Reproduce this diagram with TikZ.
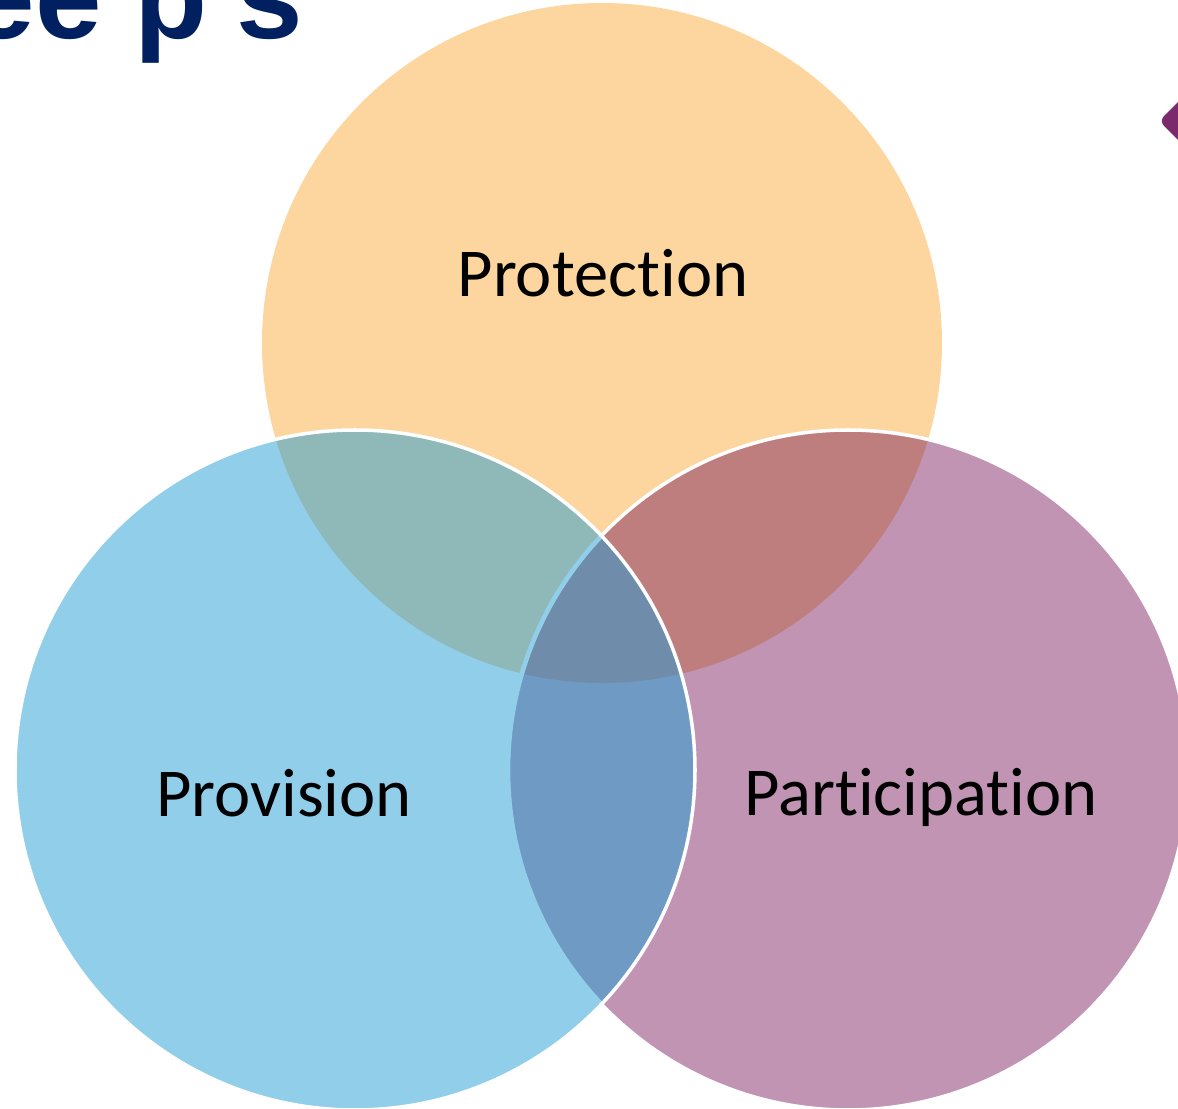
\documentclass[tikz,border=0pt]{standalone}
\usepackage{fontspec}
\setmainfont[Ligatures=NoCommon]{Carlito}
\newfontfamily\headfont{Liberation Sans}
\usetikzlibrary{positioning}
\definecolor{protcol}{HTML}{FCD69E}
\definecolor{provcol}{HTML}{90CEEA}
\definecolor{partcol}{HTML}{C194B4}
\definecolor{protprov}{HTML}{8FB9B9}
\definecolor{protpart}{HTML}{BF7E7E}
\definecolor{provpart}{HTML}{6F9AC4}
\definecolor{allthree}{HTML}{6F8DAA}
\definecolor{headcol}{HTML}{002060}
\definecolor{markcol}{HTML}{7B2A6D}
\tikzstyle{circlabel} = [font=\fontsize{19.5}{23}\selectfont, text=black, inner sep=0pt, anchor=base]
\tikzstyle{rim} = [draw=white, line width=1pt]

\begin{document}
\begin{tikzpicture}[x=0.01cm, y=-0.01cm]
  \useasboundingbox (0,0) rectangle (1178,1109);
  \clip (0,0) rectangle (1178,1109);

  % heading, cut at the top
  \node (head) [anchor=base west, inner sep=0pt, text=headcol, font=\headfont\bfseries\fontsize{34}{40}\selectfont] at (-32,38) {ee p's};

  % mark on the right
  \fill[markcol, rounded corners=2pt] (1159,121) -- (1185,95) -- (1185,147) -- cycle;

  % the three sets
  \fill[protcol] (602,343) circle [radius=340];
  \fill[provcol] (355,770) circle [radius=340];
  \fill[partcol] (848,770) circle [radius=340];

  % overlaps
  \begin{scope}
    \clip (602,343) circle [radius=340];
    \fill[protprov] (355,770) circle [radius=340];
    \fill[protpart] (848,770) circle [radius=340];
  \end{scope}
  \begin{scope}
    \clip (355,770) circle [radius=340];
    \fill[provpart] (848,770) circle [radius=340];
    \clip (848,770) circle [radius=340];
    \fill[allthree] (602,343) circle [radius=340];
  \end{scope}

  % outlines
  \draw[rim] (848,770) circle [radius=340];
  \begin{scope}
    \clip (355,770) circle [radius=340];
    \draw[provcol, line width=1.3pt] (848,770) circle [radius=340];
  \end{scope}
  \draw[rim] (355,770) circle [radius=340];

  % labels
  \node (prot) [circlabel] at (603,296) {Protection};
  \node (prov) [circlabel] at (284,816) {Provision};
  \node (part) [circlabel] at (921,815) {Participation};
\end{tikzpicture}
\end{document}
